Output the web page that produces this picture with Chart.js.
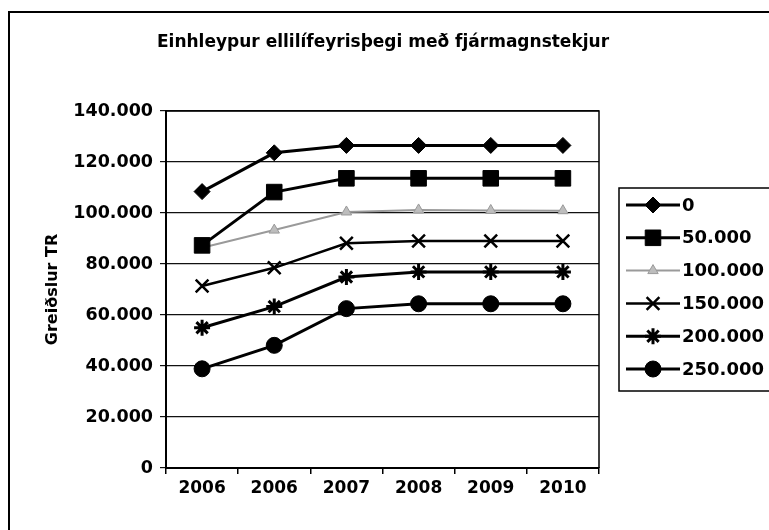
<!DOCTYPE html>
<html lang="is">
<head>
    <meta charset="UTF-8">
    <title>Einhleypur ellilífeyrisþegi með fjármagnstekjur</title>
    <script src="https://cdn.jsdelivr.net/npm/chart.js"></script>
    <style>
        html, body { margin: 0; padding: 0; background: #fff; }
        #wrap { width: 769px; height: 530px; }
    </style>
</head>
<body>
    <div id="wrap"><canvas id="graf"></canvas></div>

    <script>
        // gögn lesin af myndinni
        const titill = 'Einhleypur ellilífeyrisþegi með fjármagnstekjur';
        const asTitill = 'Greiðslur TR';
        const ar = ['2006', '2006', '2007', '2008', '2009', '2010'];
        const flokkar = ['0', '50.000', '100.000', '150.000', '200.000', '250.000'];
        const tekjur0 = [108400, 123600, 126500, 126500, 126500, 126500];
        const tekjur50 = [87300, 108200, 113600, 113600, 113600, 113600];
        const tekjur100 = [86400, 93300, 100400, 101200, 101000, 100900];
        const tekjur150 = [71400, 78500, 88100, 89000, 89000, 89000];
        const tekjur200 = [55000, 63300, 74900, 76900, 76900, 76900];
        const tekjur250 = [38900, 48100, 62500, 64400, 64400, 64400];
        const yMin = 0, yMax = 140000, yStep = 20000;

        const leturgerd = '"DejaVu Sans", Arial, sans-serif';

        function punktar(n) {
            return String(n).replace(/\B(?=(\d{3})+(?!\d))/g, '.');
        }

        function lina(label, data, snid, staerd, litur, fylling, breidd, punktBreidd) {
            return {
                label: label,
                data: data,
                borderColor: litur,
                borderWidth: breidd,
                pointStyle: snid,
                pointRadius: staerd,
                pointBackgroundColor: fylling,
                pointBorderColor: litur,
                pointBorderWidth: punktBreidd,
                tension: 0,
                fill: false
            };
        }

        const gagnasofn = [
            lina(flokkar[0], tekjur0, 'rectRot', 8, '#000', '#000', 3, 1),
            lina(flokkar[1], tekjur50, 'rect', 11, '#000', '#000', 3, 1),
            lina(flokkar[2], tekjur100, 'triangle', 6, '#9a9a9a', '#bdbdbd', 2, 1),
            lina(flokkar[3], tekjur150, 'crossRot', 9, '#000', '#000', 2.5, 2.5),
            lina(flokkar[4], tekjur200, 'star', 8, '#000', '#000', 3, 3),
            lina(flokkar[5], tekjur250, 'circle', 8, '#000', '#000', 3, 1)
        ];

        // rammi, titill og skýringar teiknuð sjálf
        const skraut = {
            id: 'skraut',
            beforeDraw(chart) {
                const c = chart.ctx;
                c.save();
                c.fillStyle = '#fff';
                c.fillRect(0, 0, chart.width, chart.height);
                c.strokeStyle = '#000';
                c.lineWidth = 2;
                c.beginPath();
                c.moveTo(9, 530);
                c.lineTo(9, 12);
                c.lineTo(769, 12);
                c.stroke();
                c.fillStyle = '#000';
                c.font = 'bold 17px ' + leturgerd;
                c.textAlign = 'center';
                c.textBaseline = 'middle';
                c.fillText(titill, 383, 43);
                c.restore();
            },
            afterDraw(chart) {
                const c = chart.ctx;
                const a = chart.chartArea;
                c.save();
                c.strokeStyle = '#000';
                c.lineWidth = 1.5;
                c.beginPath();
                c.moveTo(a.left, a.top);
                c.lineTo(a.right, a.top);
                c.lineTo(a.right, a.bottom);
                c.stroke();

                // skýringakassi
                c.lineWidth = 1.5;
                c.strokeRect(619, 188, 160, 203);
                c.font = 'bold 18px ' + leturgerd;
                c.textAlign = 'left';
                c.textBaseline = 'middle';
                gagnasofn.forEach((d, i) => {
                    const y = 205 + i * 32.8;
                    c.strokeStyle = d.borderColor;
                    c.lineWidth = d.borderWidth;
                    c.beginPath();
                    c.moveTo(626, y);
                    c.lineTo(680, y);
                    c.stroke();
                    c.fillStyle = d.pointBackgroundColor;
                    c.strokeStyle = d.pointBorderColor;
                    c.lineWidth = d.pointBorderWidth;
                    Chart.helpers.drawPoint(c, {
                        pointStyle: d.pointStyle,
                        radius: d.pointRadius,
                        borderWidth: d.pointBorderWidth,
                        rotation: 0
                    }, 653, y);
                    c.fillStyle = '#000';
                    c.fillText(d.label, 682, y + 1);
                });
                c.restore();
            }
        };

        new Chart(document.getElementById('graf'), {
            type: 'line',
            data: { labels: ar, datasets: gagnasofn },
            options: {
                responsive: true,
                maintainAspectRatio: false,
                animation: false,
                layout: { padding: { top: 111, right: 170, left: 0, bottom: 0 } },
                plugins: {
                    legend: { display: false },
                    title: { display: false },
                    tooltip: { enabled: false }
                },
                scales: {
                    x: {
                        offset: true,
                        afterFit: s => { s.height = 62; },
                        grid: {
                            offset: true,
                            drawOnChartArea: false,
                            drawTicks: true,
                            tickLength: 6,
                            color: '#000',
                            lineWidth: 1.5
                        },
                        border: { display: true, color: '#000', width: 2 },
                        ticks: {
                            color: '#000',
                            padding: 4,
                            maxRotation: 0,
                            font: { family: leturgerd, size: 17, weight: 'bold' }
                        }
                    },
                    y: {
                        min: yMin,
                        max: yMax,
                        afterFit: s => { s.width = 166; },
                        grid: {
                            color: '#111',
                            lineWidth: 1.2,
                            drawTicks: true,
                            tickLength: 6
                        },
                        border: { display: true, color: '#000', width: 2 },
                        ticks: {
                            stepSize: yStep,
                            color: '#000',
                            padding: 7,
                            font: { family: leturgerd, size: 17.5, weight: 'bold' },
                            callback: v => punktar(v)
                        },
                        title: {
                            display: true,
                            text: asTitill,
                            color: '#000',
                            padding: { top: 43, bottom: 0 },
                            font: { family: leturgerd, size: 16, weight: 'bold' }
                        }
                    }
                }
            },
            plugins: [skraut]
        });
    </script>
</body>
</html>
